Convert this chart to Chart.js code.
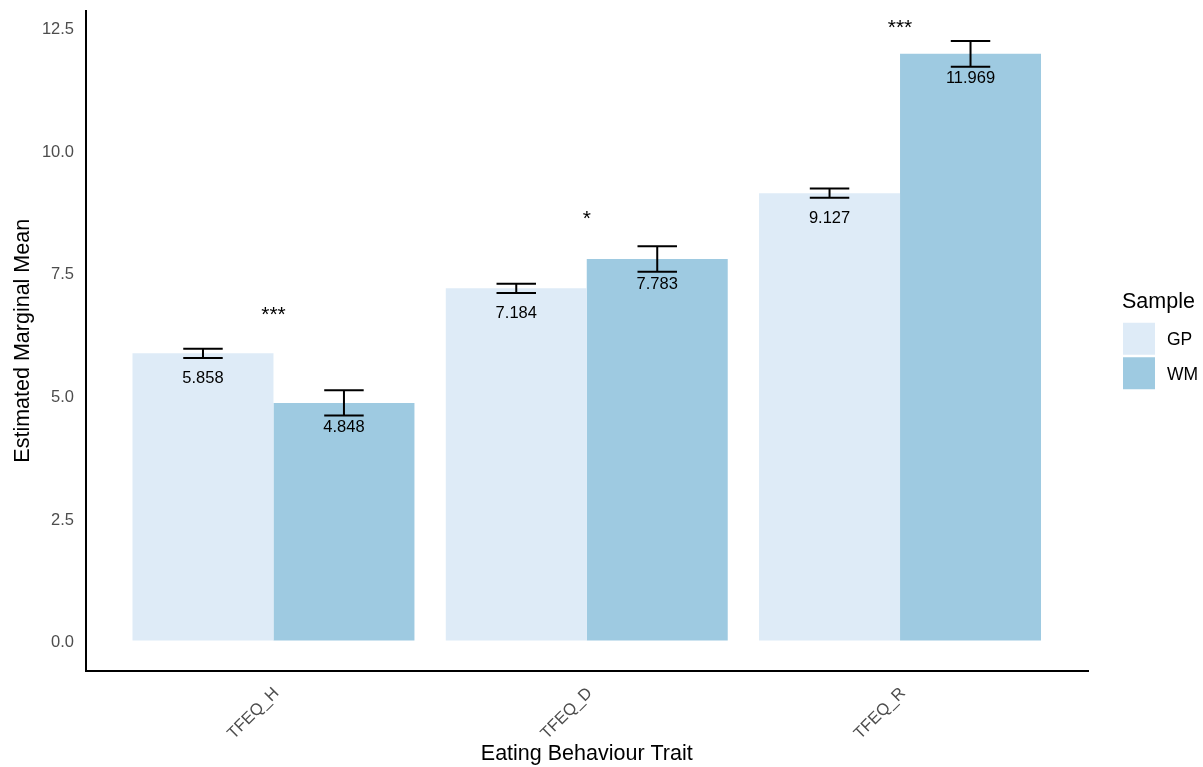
<!DOCTYPE html>
<html>
<head>
<meta charset="utf-8">
<script src="https://cdn.jsdelivr.net/npm/chart.js@4.4.1/dist/chart.umd.min.js"></script>
<style>
  html, body { margin: 0; padding: 0; background: #ffffff; }
  canvas { display: block; }
</style>
</head>
<body>
<canvas id="chart" width="1203" height="767"></canvas>
<script>
// Eating behaviour traits (TFEQ subscales) by sample
const traits = ['TFEQ_H', 'TFEQ_D', 'TFEQ_R'];
const sampleNames = ['GP', 'WM'];
const gpMeans = [5.858, 7.184, 9.127];
const wmMeans = [4.848, 7.783, 11.969];
const gpSE = [0.092, 0.096, 0.096];
const wmSE = [0.259, 0.262, 0.262];
const sigLabels = ['***', '*', '***'];
const sigHeights = [6.51, 8.48, 12.37];
const yTicks = [0, 2.5, 5, 7.5, 10, 12.5];

const FONT = "'Liberation Sans', Arial, Helvetica, sans-serif";
const colors = ['#deebf7', '#9ecae1'];
const seSets = [gpSE, wmSE];

// y range: zero to the highest error-bar top, padded 5% each side
const upper = Math.max(...gpMeans.map((m, i) => m + gpSE[i]), ...wmMeans.map((m, i) => m + wmSE[i]));
const yMin = -0.05 * upper;
const yMax = upper * 1.05;

Chart.defaults.font.family = FONT;

const overlay = {
  id: 'overlay',
  afterDatasetsDraw(chart) {
    const ctx = chart.ctx;
    const ys = chart.scales.y;
    const xs = chart.scales.x;
    const area = chart.chartArea;

    // error bars and value labels
    chart.data.datasets.forEach((ds, di) => {
      const meta = chart.getDatasetMeta(di);
      meta.data.forEach((bar, i) => {
        const v = ds.data[i].y;
        const se = seSets[di][i];
        const top = ys.getPixelForValue(v + se);
        const bot = ys.getPixelForValue(v - se);
        const half = bar.width * 0.14;
        ctx.save();
        ctx.strokeStyle = '#000';
        ctx.lineWidth = 2;
        ctx.beginPath();
        ctx.moveTo(bar.x, top); ctx.lineTo(bar.x, bot);
        ctx.moveTo(bar.x - half, top); ctx.lineTo(bar.x + half, top);
        ctx.moveTo(bar.x - half, bot); ctx.lineTo(bar.x + half, bot);
        ctx.stroke();
        ctx.fillStyle = '#000';
        ctx.font = '16.5px ' + FONT;
        ctx.textAlign = 'center';
        ctx.textBaseline = 'middle';
        ctx.fillText(v.toFixed(3), bar.x, ys.getPixelForValue(v) + 25);
        ctx.restore();
      });
    });

    // significance markers above each trait
    ctx.save();
    ctx.fillStyle = '#000';
    ctx.font = '21px ' + FONT;
    ctx.textAlign = 'center';
    ctx.textBaseline = 'alphabetic';
    sigLabels.forEach((s, i) => {
      ctx.fillText(s, xs.getPixelForValue(i + 1), ys.getPixelForValue(sigHeights[i]));
    });
    ctx.restore();

    // legend
    const lx = area.right + 35;
    const cy = (area.top + area.bottom) / 2;
    ctx.save();
    ctx.fillStyle = '#000';
    ctx.textAlign = 'left';
    ctx.textBaseline = 'middle';
    ctx.font = '21.5px ' + FONT;
    ctx.fillText('Sample', lx - 1, cy - 38.5);
    ctx.font = '17.5px ' + FONT;
    sampleNames.forEach((name, i) => {
      const ky = cy - 18 + i * 34.5;
      ctx.fillStyle = colors[i];
      ctx.fillRect(lx, ky, 32, 32);
      ctx.fillStyle = '#000';
      ctx.fillText(name, lx + 44, ky + 17.5);
    });
    ctx.restore();
  }
};

new Chart(document.getElementById('chart'), {
  type: 'bar',
  data: {
    datasets: [
      {
        label: sampleNames[0],
        data: gpMeans.map((v, i) => ({ x: i + 1, y: v })),
        backgroundColor: colors[0],
        borderWidth: 0,
        categoryPercentage: 0.9,
        barPercentage: 1.0
      },
      {
        label: sampleNames[1],
        data: wmMeans.map((v, i) => ({ x: i + 1, y: v })),
        backgroundColor: colors[1],
        borderWidth: 0,
        categoryPercentage: 0.9,
        barPercentage: 1.0
      }
    ]
  },
  options: {
    responsive: false,
    animation: false,
    layout: { padding: { top: 11, right: 115, bottom: 0, left: 0 } },
    plugins: {
      legend: { display: false },
      tooltip: { enabled: false }
    },
    scales: {
      x: {
        type: 'linear',
        min: 0.4,
        max: 3.6,
        offset: false,
        grid: { display: false, drawTicks: false, offset: false },
        border: { display: true, color: '#000', width: 2 },
        afterBuildTicks: s => { s.ticks = traits.map((_, i) => ({ value: i + 1 })); },
        afterFit: s => { s.height = 96.5; s.paddingLeft = 0; s.paddingRight = 0; },
        ticks: {
          autoSkip: false,
          minRotation: 45,
          maxRotation: 45,
          padding: 13,
          labelOffset: 3,
          color: '#4d4d4d',
          font: { size: 16.5 },
          callback: v => traits[Math.round(v) - 1] || ''
        },
        title: {
          display: true,
          text: 'Eating Behaviour Trait',
          color: '#000',
          font: { size: 21.5 },
          padding: { top: 0, bottom: 0 }
        }
      },
      y: {
        min: yMin,
        max: yMax,
        grid: { display: false, drawTicks: false },
        border: { display: true, color: '#000', width: 2 },
        afterBuildTicks: s => { s.ticks = yTicks.map(v => ({ value: v })); },
        afterFit: s => { s.width = 85.5; s.paddingTop = 0; s.paddingBottom = 0; },
        ticks: {
          padding: 11.5,
          labelOffset: 2,
          color: '#4d4d4d',
          font: { size: 16.5 },
          callback: v => Number(v).toFixed(1)
        },
        title: {
          display: true,
          text: 'Estimated Marginal Mean',
          color: '#000',
          font: { size: 21.5 },
          padding: { top: 10, bottom: 0 }
        }
      }
    }
  },
  plugins: [overlay]
});
</script>
</body>
</html>
